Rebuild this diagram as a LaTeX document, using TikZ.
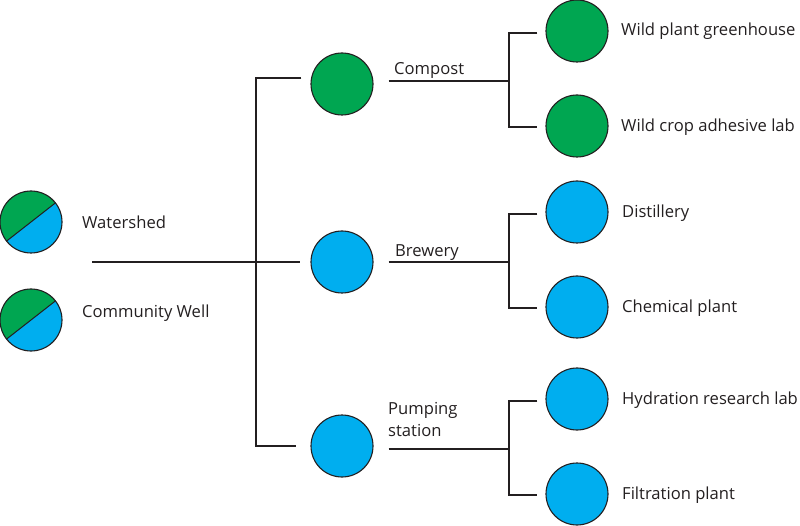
\documentclass[tikz,border=0pt]{standalone}
\usepackage{fontspec}
\setmainfont{Open Sans}
\usetikzlibrary{calc}
\definecolor{gr}{HTML}{00A651}
\definecolor{bl}{HTML}{00AEEF}
\definecolor{ink}{HTML}{231F20}
\begin{document}
\begin{tikzpicture}[x=1pt,y=-1pt,
  conn/.style={draw=ink,line width=1.2pt},
  dot/.style={circle,draw=ink,line width=1.1pt,minimum size=62pt,inner sep=0pt},
  gdot/.style={dot,fill=gr},
  bdot/.style={dot,fill=bl},
  lbl/.style={anchor=base west,inner sep=0pt,text=ink,font=\fontsize{16.6}{19}\selectfont}]
\useasboundingbox (0,0) rectangle (800,526);
% split circles
\foreach \cy/\nm in {222/ws,320/cw}{
  \fill[bl] (31,\cy) circle (31);
  \fill[gr] (31,\cy) ++(-38:31) arc[start angle=-38,end angle=-218,radius=31] -- cycle;
  \draw[ink,line width=1pt] (31,\cy) ++(-38:31) -- ++(-218:62);
  \node[dot] (\nm) at (31,\cy) {};
}
\node[lbl] (wsl) at (82,229) {Watershed};
\node[lbl] (cwl) at (82,318) {Community Well};
% middle
\node[gdot] (comp) at (342,84) {};
\node[bdot] (brew) at (342,262) {};
\node[bdot] (pump) at (342,446) {};
\node[lbl] (compl) at (394,75) {Compost};
\node[lbl] (brewl) at (395,257) {Brewery};
\node[lbl] (pumpl) at (388,414) {Pumping};
\node[lbl] (statl) at (388,436) {station};
% right
\node[gdot] (wpg) at (577,31) {};
\node[gdot] (wca) at (577,126) {};
\node[bdot] (dist) at (577,212) {};
\node[bdot] (chem) at (577,307) {};
\node[bdot] (hyd) at (577,399) {};
\node[bdot] (filt) at (577,494) {};
\node[lbl] (wpgl) at (621,36) {Wild plant greenhouse};
\node[lbl] (wcal) at (621,132) {Wild crop adhesive lab};
\node[lbl] (distl) at (622,218) {Distillery};
\node[lbl] (cheml) at (622,313) {Chemical plant};
\node[lbl] (hydl) at (622,404) {Hydration research lab};
\node[lbl] (filtl) at (622,499) {Filtration plant};
% trunk
\coordinate (root) at (92,262);
\coordinate (hub) at (256,262);
\coordinate (cin) at ($(comp.west)+(-9,-6)$);
\coordinate (bin) at ($(brew.west)+(-10,0)$);
\coordinate (pin) at ($(pump.west)+(-14,0)$);
\draw[conn] (root) -- (bin);
\draw[conn] (cin) -| (hub) |- (pin);
% branches
\foreach \src/\a/\b/\dy in {comp/wpg/wca/-3, brew/dist/chem/0, pump/hyd/filt/3}{
  \coordinate (o) at ($(\src.east)+(15,\dy)$);
  \coordinate (j) at (509,0|-o);
  \coordinate (ta) at ($(\a.west)+(-8,2)$);
  \coordinate (tb) at ($(\b.west)+(-8,1)$);
  \draw[conn] (o) -- (j);
  \draw[conn] (ta) -| (j) |- (tb);
}
\end{tikzpicture}
\end{document}
